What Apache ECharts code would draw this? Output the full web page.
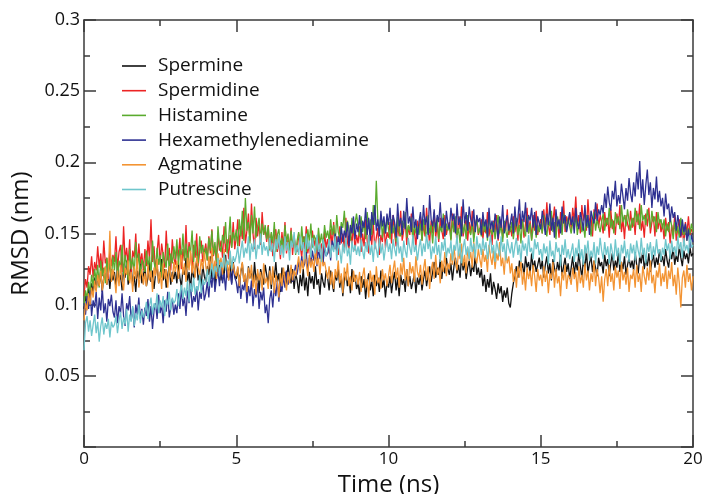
<!DOCTYPE html>
<html><head><meta charset="utf-8">
<script src="https://cdn.jsdelivr.net/npm/echarts@6/dist/echarts.min.js"></script>
<style>html,body{margin:0;padding:0;background:#fff}#c{width:707px;height:494px}</style>
</head><body><div id="c"></div>
<script>
const seriesNames = ['Spermine','Spermidine','Histamine','Hexamethylenediamine','Agmatine','Putrescine'];
const seriesColors = ['#111111','#ec2424','#5aab2e','#2e3192','#f39433','#6fc6cc'];
const xTicks = [0,5,10,15,20];
const yTicks = [0,0.05,0.1,0.15,0.2,0.25,0.3];

const spermine = [
0.097,0.106,0.101,0.112,0.104,0.115,0.108,0.119,0.110,0.121,0.113,0.124,0.109,0.120,0.126,0.114,0.122,0.111,0.125,0.117,
0.123,0.112,0.128,0.116,0.121,0.110,0.126,0.119,0.131,0.114,0.122,0.127,0.113,0.120,0.109,0.124,0.118,0.129,0.115,0.121,
0.126,0.113,0.119,0.130,0.116,0.124,0.111,0.122,0.128,0.115,0.120,0.132,0.117,0.125,0.112,0.121,0.127,0.114,0.123,0.118,
0.124,0.115,0.129,0.119,0.112,0.126,0.121,0.133,0.116,0.123,0.110,0.127,0.118,0.124,0.131,0.117,0.122,0.113,0.128,0.120,
0.116,0.127,0.121,0.134,0.118,0.125,0.113,0.129,0.123,0.131,0.117,0.126,0.120,0.135,0.119,0.124,0.128,0.115,0.130,0.122,
0.118,0.126,0.112,0.123,0.129,0.116,0.121,0.110,0.127,0.119,0.124,0.113,0.130,0.117,0.122,0.108,0.125,0.120,0.114,0.128,
0.121,0.115,0.127,0.111,0.124,0.119,0.130,0.116,0.122,0.109,0.126,0.118,0.123,0.113,0.128,0.120,0.115,0.125,0.111,0.122,
0.117,0.108,0.121,0.113,0.125,0.110,0.119,0.106,0.123,0.115,0.120,0.111,0.127,0.114,0.118,0.107,0.122,0.116,0.112,0.124,
0.119,0.110,0.124,0.115,0.109,0.121,0.117,0.126,0.112,0.120,0.106,0.118,0.123,0.113,0.119,0.108,0.125,0.116,0.121,0.111,
0.115,0.107,0.120,0.112,0.118,0.104,0.116,0.122,0.110,0.117,0.106,0.121,0.113,0.119,0.109,0.124,0.112,0.118,0.105,0.116,
0.112,0.120,0.108,0.117,0.123,0.110,0.119,0.106,0.121,0.114,0.118,0.109,0.125,0.113,0.120,0.111,0.116,0.122,0.108,0.119,
0.114,0.121,0.110,0.118,0.124,0.113,0.120,0.127,0.116,0.123,0.130,0.119,0.126,0.121,0.132,0.118,0.128,0.122,0.133,0.125,
0.121,0.129,0.117,0.127,0.133,0.122,0.128,0.119,0.134,0.124,0.130,0.118,0.126,0.131,0.120,0.128,0.123,0.135,0.121,0.126,
0.119,0.125,0.113,0.121,0.109,0.118,0.112,0.122,0.107,0.116,0.111,0.104,0.115,0.108,0.113,0.102,0.110,0.105,0.112,0.101,
0.098,0.108,0.115,0.121,0.127,0.119,0.131,0.124,0.129,0.120,0.134,0.126,0.130,0.122,0.136,0.125,0.131,0.123,0.128,0.133,
0.125,0.131,0.119,0.128,0.134,0.122,0.129,0.117,0.132,0.126,0.121,0.130,0.124,0.135,0.120,0.127,0.133,0.123,0.129,0.118,
0.126,0.134,0.121,0.130,0.124,0.136,0.127,0.119,0.132,0.125,0.138,0.122,0.129,0.134,0.123,0.131,0.126,0.120,0.133,0.127,
0.130,0.122,0.135,0.127,0.132,0.120,0.129,0.136,0.124,0.131,0.126,0.137,0.123,0.130,0.125,0.134,0.121,0.128,0.133,0.126,
0.131,0.124,0.137,0.128,0.122,0.134,0.129,0.138,0.125,0.132,0.127,0.136,0.123,0.130,0.135,0.126,0.133,0.128,0.139,0.130,
0.134,0.127,0.139,0.131,0.126,0.137,0.132,0.140,0.128,0.135,0.130,0.141,0.133,0.127,0.138,0.132,0.136,0.129,0.140,0.134,
0.136];

const spermidine = [
0.106,0.118,0.112,0.127,0.121,0.134,0.119,0.130,0.124,0.141,0.126,0.136,0.122,0.145,0.129,0.133,0.118,0.139,0.127,0.135,
0.130,0.148,0.125,0.137,0.142,0.123,0.155,0.131,0.140,0.128,0.146,0.121,0.138,0.133,0.150,0.126,0.143,0.129,0.136,0.124,
0.139,0.127,0.145,0.132,0.160,0.130,0.141,0.122,0.137,0.149,0.128,0.143,0.135,0.126,0.152,0.131,0.140,0.124,0.146,0.133,
0.128,0.141,0.134,0.147,0.125,0.139,0.131,0.156,0.129,0.144,0.136,0.123,0.142,0.133,0.150,0.127,0.138,0.145,0.130,0.137,
0.143,0.131,0.148,0.136,0.153,0.134,0.141,0.129,0.150,0.138,0.145,0.133,0.155,0.137,0.146,0.132,0.149,0.140,0.158,0.139,
0.147,0.160,0.141,0.155,0.146,0.168,0.143,0.152,0.164,0.145,0.171,0.150,0.139,0.161,0.148,0.157,0.142,0.165,0.149,0.153,
0.144,0.156,0.138,0.150,0.134,0.147,0.153,0.137,0.145,0.132,0.151,0.140,0.158,0.136,0.146,0.139,0.154,0.135,0.148,0.141,
0.137,0.150,0.142,0.133,0.148,0.139,0.155,0.136,0.144,0.131,0.152,0.141,0.147,0.134,0.149,0.138,0.143,0.130,0.151,0.140,
0.146,0.136,0.153,0.141,0.158,0.139,0.148,0.135,0.155,0.143,0.150,0.137,0.161,0.144,0.139,0.152,0.142,0.157,0.138,0.149,
0.143,0.155,0.137,0.150,0.141,0.160,0.145,0.136,0.153,0.142,0.158,0.139,0.147,0.154,0.135,0.149,0.144,0.157,0.140,0.151,
0.147,0.158,0.143,0.163,0.150,0.141,0.156,0.148,0.166,0.145,0.152,0.160,0.142,0.155,0.149,0.164,0.146,0.153,0.140,0.159,
0.151,0.162,0.145,0.157,0.148,0.168,0.153,0.143,0.159,0.150,0.165,0.147,0.156,0.144,0.161,0.152,0.146,0.163,0.149,0.155,
0.158,0.146,0.164,0.151,0.157,0.143,0.162,0.153,0.169,0.148,0.155,0.160,0.145,0.158,0.150,0.166,0.147,0.154,0.161,0.149,
0.153,0.160,0.146,0.157,0.150,0.165,0.148,0.156,0.142,0.159,0.151,0.163,0.145,0.154,0.160,0.147,0.158,0.152,0.167,0.149,
0.155,0.148,0.162,0.151,0.158,0.145,0.164,0.153,0.160,0.147,0.157,0.168,0.150,0.159,0.146,0.163,0.152,0.166,0.149,0.156,
0.160,0.150,0.167,0.154,0.172,0.156,0.149,0.163,0.158,0.169,0.152,0.161,0.147,0.165,0.155,0.173,0.151,0.162,0.157,0.164,
0.153,0.168,0.158,0.176,0.155,0.163,0.150,0.170,0.159,0.166,0.152,0.174,0.157,0.162,0.148,0.167,0.160,0.171,0.154,0.163,
0.158,0.150,0.165,0.155,0.161,0.147,0.167,0.153,0.159,0.149,0.164,0.156,0.170,0.151,0.160,0.146,0.163,0.157,0.152,0.166,
0.154,0.161,0.149,0.166,0.156,0.171,0.152,0.159,0.147,0.164,0.155,0.168,0.150,0.158,0.162,0.148,0.165,0.153,0.160,0.151,
0.157,0.146,0.161,0.152,0.158,0.143,0.156,0.149,0.163,0.145,0.154,0.160,0.147,0.155,0.141,0.158,0.150,0.162,0.148,0.153,
0.151];

const histamine = [
0.099,0.110,0.104,0.116,0.108,0.121,0.113,0.125,0.117,0.128,0.112,0.131,0.120,0.126,0.115,0.133,0.122,0.129,0.118,0.134,
0.124,0.137,0.119,0.131,0.126,0.142,0.121,0.135,0.128,0.117,0.139,0.125,0.133,0.122,0.144,0.127,0.136,0.120,0.132,0.129,
0.123,0.138,0.127,0.134,0.120,0.145,0.130,0.124,0.140,0.128,0.135,0.119,0.137,0.131,0.126,0.143,0.122,0.136,0.129,0.141,
0.132,0.146,0.128,0.139,0.134,0.150,0.131,0.143,0.126,0.141,0.137,0.152,0.130,0.145,0.135,0.129,0.148,0.136,0.142,0.133,
0.140,0.131,0.147,0.138,0.152,0.135,0.144,0.130,0.155,0.141,0.137,0.149,0.143,0.158,0.136,0.146,0.162,0.140,0.151,0.145,
0.153,0.141,0.160,0.148,0.166,0.145,0.175,0.152,0.158,0.143,0.163,0.150,0.169,0.147,0.155,0.161,0.144,0.157,0.149,0.156,
0.146,0.155,0.139,0.151,0.143,0.158,0.137,0.149,0.153,0.141,0.147,0.136,0.156,0.144,0.150,0.138,0.152,0.142,0.148,0.135,
0.145,0.151,0.139,0.155,0.142,0.148,0.136,0.153,0.144,0.157,0.140,0.149,0.146,0.138,0.154,0.143,0.150,0.141,0.156,0.147,
0.152,0.145,0.160,0.149,0.156,0.143,0.163,0.151,0.147,0.158,0.154,0.166,0.148,0.159,0.153,0.145,0.161,0.150,0.157,0.164,
0.155,0.148,0.162,0.151,0.158,0.146,0.165,0.153,0.160,0.149,0.170,0.156,0.187,0.159,0.152,0.163,0.147,0.158,0.150,0.161,
0.153,0.146,0.160,0.150,0.157,0.144,0.162,0.151,0.148,0.159,0.154,0.165,0.147,0.156,0.152,0.161,0.145,0.158,0.150,0.155,
0.149,0.157,0.145,0.160,0.152,0.147,0.163,0.150,0.156,0.143,0.158,0.153,0.161,0.146,0.155,0.151,0.164,0.148,0.157,0.152,
0.156,0.145,0.159,0.151,0.162,0.148,0.154,0.143,0.160,0.150,0.157,0.146,0.163,0.152,0.149,0.158,0.144,0.155,0.161,0.150,
0.154,0.148,0.160,0.151,0.157,0.145,0.162,0.153,0.149,0.158,0.146,0.155,0.163,0.150,0.156,0.144,0.159,0.152,0.147,0.157,
0.151,0.158,0.146,0.155,0.161,0.149,0.156,0.143,0.159,0.152,0.148,0.162,0.150,0.157,0.145,0.154,0.160,0.147,0.156,0.151,
0.157,0.150,0.163,0.154,0.148,0.160,0.155,0.166,0.151,0.158,0.146,0.162,0.153,0.159,0.149,0.164,0.156,0.152,0.161,0.155,
0.150,0.158,0.153,0.164,0.149,0.157,0.161,0.151,0.156,0.147,0.163,0.154,0.159,0.148,0.157,0.165,0.152,0.160,0.155,0.151,
0.158,0.164,0.152,0.161,0.156,0.168,0.154,0.160,0.150,0.165,0.157,0.162,0.153,0.170,0.158,0.163,0.155,0.167,0.159,0.152,
0.161,0.155,0.168,0.158,0.164,0.153,0.170,0.159,0.163,0.156,0.167,0.160,0.154,0.166,0.158,0.162,0.151,0.165,0.157,0.160,
0.153,0.160,0.148,0.157,0.151,0.162,0.155,0.146,0.158,0.150,0.155,0.147,0.161,0.152,0.149,0.156,0.145,0.154,0.150,0.157,
0.151];

const hexamethylenediamine = [
0.101,0.093,0.106,0.097,0.110,0.092,0.103,0.098,0.109,0.090,0.105,0.096,0.112,0.094,0.101,0.088,0.104,0.099,0.107,0.095,
0.091,0.103,0.087,0.099,0.094,0.108,0.092,0.085,0.101,0.096,0.106,0.089,0.098,0.084,0.100,0.093,0.105,0.090,0.097,0.086,
0.098,0.092,0.104,0.088,0.099,0.083,0.096,0.101,0.090,0.107,0.094,0.100,0.087,0.103,0.095,0.109,0.091,0.098,0.104,0.093,
0.100,0.094,0.108,0.097,0.112,0.099,0.105,0.092,0.110,0.101,0.115,0.098,0.106,0.102,0.113,0.096,0.109,0.104,0.117,0.103,
0.108,0.116,0.105,0.121,0.112,0.126,0.109,0.118,0.124,0.113,0.129,0.115,0.122,0.110,0.127,0.117,0.123,0.114,0.128,0.119,
0.116,0.108,0.121,0.104,0.114,0.110,0.119,0.101,0.113,0.106,0.117,0.099,0.111,0.105,0.115,0.097,0.109,0.103,0.112,0.094,
0.100,0.087,0.104,0.110,0.098,0.113,0.106,0.117,0.102,0.115,0.109,0.120,0.112,0.124,0.114,0.119,0.126,0.116,0.122,0.128,
0.121,0.130,0.124,0.134,0.126,0.129,0.137,0.123,0.133,0.128,0.138,0.131,0.135,0.127,0.140,0.132,0.136,0.129,0.141,0.134,
0.136,0.143,0.131,0.145,0.139,0.150,0.137,0.148,0.142,0.155,0.144,0.152,0.147,0.158,0.141,0.156,0.150,0.162,0.146,0.157,
0.151,0.163,0.147,0.159,0.154,0.168,0.149,0.161,0.145,0.165,0.156,0.170,0.152,0.160,0.148,0.166,0.155,0.162,0.150,0.164,
0.156,0.168,0.150,0.163,0.158,0.147,0.171,0.155,0.161,0.149,0.166,0.153,0.175,0.157,0.162,0.151,0.169,0.154,0.160,0.146,
0.158,0.165,0.152,0.170,0.156,0.162,0.149,0.177,0.160,0.155,0.167,0.151,0.163,0.158,0.172,0.154,0.161,0.148,0.166,0.157,
0.153,0.168,0.159,0.164,0.150,0.171,0.156,0.162,0.148,0.174,0.157,0.165,0.152,0.169,0.160,0.155,0.167,0.151,0.163,0.158,
0.161,0.149,0.165,0.155,0.160,0.147,0.168,0.153,0.159,0.151,0.164,0.156,0.146,0.162,0.154,0.170,0.150,0.158,0.163,0.152,
0.157,0.164,0.150,0.169,0.155,0.161,0.174,0.153,0.166,0.158,0.172,0.151,0.163,0.159,0.168,0.154,0.165,0.149,0.162,0.157,
0.153,0.166,0.158,0.149,0.164,0.156,0.171,0.152,0.161,0.147,0.167,0.155,0.160,0.150,0.169,0.157,0.163,0.151,0.158,0.165,
0.156,0.162,0.150,0.168,0.158,0.153,0.165,0.160,0.152,0.170,0.155,0.163,0.149,0.166,0.161,0.157,0.172,0.159,0.167,0.163,
0.170,0.164,0.178,0.168,0.183,0.172,0.166,0.180,0.174,0.187,0.169,0.177,0.171,0.185,0.176,0.167,0.182,0.173,0.189,0.178,
0.172,0.186,0.176,0.193,0.181,0.201,0.175,0.188,0.170,0.184,0.195,0.177,0.186,0.168,0.182,0.174,0.190,0.172,0.180,0.169,
0.175,0.162,0.178,0.167,0.171,0.158,0.169,0.161,0.165,0.152,0.163,0.156,0.148,0.160,0.151,0.157,0.145,0.153,0.140,0.149,
0.144];

const agmatine = [
0.089,0.101,0.096,0.108,0.100,0.112,0.105,0.117,0.109,0.121,0.113,0.124,0.110,0.119,0.127,0.114,0.122,0.152,0.116,0.125,
0.119,0.108,0.124,0.113,0.128,0.117,0.110,0.126,0.121,0.131,0.115,0.123,0.109,0.127,0.118,0.133,0.112,0.120,0.125,0.114,
0.122,0.113,0.128,0.117,0.124,0.109,0.126,0.120,0.132,0.115,0.123,0.111,0.129,0.118,0.125,0.112,0.127,0.121,0.116,0.130,
0.123,0.131,0.118,0.127,0.135,0.121,0.129,0.116,0.133,0.124,0.138,0.122,0.130,0.119,0.134,0.126,0.120,0.132,0.125,0.137,
0.127,0.120,0.134,0.125,0.140,0.123,0.131,0.118,0.136,0.128,0.133,0.121,0.139,0.126,0.130,0.117,0.135,0.124,0.129,0.122,
0.120,0.127,0.113,0.124,0.130,0.116,0.122,0.109,0.126,0.118,0.128,0.112,0.121,0.107,0.125,0.117,0.123,0.110,0.129,0.115,
0.119,0.111,0.124,0.114,0.127,0.108,0.121,0.116,0.105,0.122,0.113,0.126,0.118,0.110,0.123,0.115,0.128,0.117,0.124,0.120,
0.127,0.134,0.122,0.131,0.125,0.138,0.129,0.120,0.135,0.126,0.132,0.123,0.140,0.128,0.133,0.121,0.136,0.127,0.130,0.124,
0.118,0.127,0.114,0.123,0.111,0.125,0.119,0.131,0.115,0.122,0.108,0.126,0.117,0.129,0.113,0.120,0.110,0.124,0.116,0.121,
0.114,0.123,0.109,0.120,0.126,0.112,0.118,0.105,0.124,0.116,0.121,0.107,0.127,0.115,0.119,0.111,0.125,0.117,0.122,0.113,
0.120,0.128,0.115,0.124,0.131,0.118,0.126,0.112,0.129,0.121,0.133,0.117,0.125,0.113,0.130,0.122,0.127,0.116,0.134,0.123,
0.119,0.128,0.114,0.125,0.132,0.117,0.127,0.111,0.124,0.130,0.118,0.135,0.121,0.126,0.115,0.131,0.123,0.137,0.120,0.129,
0.125,0.136,0.128,0.141,0.130,0.124,0.138,0.132,0.143,0.127,0.135,0.122,0.140,0.131,0.137,0.126,0.144,0.133,0.129,0.139,
0.132,0.126,0.139,0.130,0.135,0.123,0.142,0.134,0.128,0.138,0.125,0.136,0.131,0.144,0.127,0.133,0.121,0.137,0.129,0.134,
0.122,0.129,0.116,0.125,0.112,0.127,0.119,0.131,0.114,0.123,0.110,0.126,0.118,0.124,0.113,0.128,0.120,0.109,0.125,0.117,
0.121,0.113,0.127,0.116,0.124,0.108,0.122,0.118,0.130,0.112,0.125,0.115,0.120,0.106,0.123,0.117,0.128,0.111,0.121,0.119,
0.114,0.126,0.118,0.123,0.109,0.127,0.115,0.121,0.112,0.129,0.117,0.124,0.110,0.122,0.116,0.131,0.113,0.125,0.119,0.108,
0.120,0.102,0.118,0.125,0.113,0.128,0.116,0.122,0.110,0.127,0.119,0.124,0.111,0.130,0.117,0.123,0.114,0.126,0.109,0.121,
0.118,0.125,0.112,0.128,0.116,0.122,0.109,0.127,0.120,0.114,0.126,0.117,0.131,0.115,0.121,0.108,0.124,0.119,0.129,0.113,
0.122,0.116,0.127,0.111,0.124,0.118,0.130,0.113,0.121,0.107,0.126,0.115,0.098,0.119,0.124,0.112,0.128,0.116,0.122,0.110,
0.120];

const putrescine = [
0.068,0.087,0.092,0.081,0.089,0.078,0.086,0.093,0.080,0.088,0.074,0.085,0.091,0.079,0.087,0.083,0.090,0.077,0.088,0.084,
0.086,0.092,0.080,0.089,0.095,0.083,0.091,0.086,0.097,0.081,0.093,0.088,0.099,0.085,0.094,0.089,0.100,0.087,0.096,0.091,
0.095,0.102,0.090,0.099,0.105,0.093,0.101,0.097,0.108,0.094,0.103,0.098,0.106,0.092,0.104,0.100,0.109,0.096,0.105,0.101,
0.103,0.111,0.099,0.108,0.114,0.104,0.112,0.106,0.117,0.102,0.115,0.109,0.119,0.107,0.113,0.110,0.121,0.108,0.118,0.114,
0.117,0.125,0.113,0.122,0.129,0.119,0.127,0.123,0.133,0.120,0.130,0.126,0.136,0.124,0.131,0.128,0.138,0.125,0.134,0.130,
0.134,0.141,0.129,0.138,0.145,0.133,0.140,0.136,0.148,0.131,0.143,0.137,0.146,0.132,0.142,0.139,0.150,0.135,0.144,0.138,
0.141,0.134,0.147,0.137,0.143,0.130,0.146,0.139,0.149,0.135,0.142,0.133,0.148,0.138,0.144,0.131,0.145,0.140,0.151,0.136,
0.142,0.135,0.148,0.138,0.144,0.132,0.150,0.139,0.145,0.133,0.147,0.140,0.136,0.149,0.137,0.143,0.130,0.146,0.141,0.134,
0.139,0.146,0.133,0.142,0.137,0.148,0.131,0.144,0.138,0.129,0.143,0.136,0.147,0.134,0.140,0.128,0.145,0.137,0.142,0.135,
0.141,0.134,0.146,0.138,0.132,0.144,0.137,0.149,0.135,0.142,0.130,0.145,0.139,0.133,0.147,0.136,0.143,0.131,0.140,0.146,
0.137,0.143,0.132,0.146,0.139,0.134,0.148,0.136,0.141,0.130,0.145,0.138,0.133,0.147,0.140,0.135,0.149,0.137,0.142,0.131,
0.140,0.146,0.134,0.143,0.137,0.150,0.139,0.145,0.132,0.141,0.136,0.148,0.135,0.142,0.130,0.144,0.138,0.147,0.133,0.140,
0.136,0.145,0.131,0.142,0.138,0.149,0.134,0.143,0.129,0.140,0.146,0.135,0.141,0.132,0.147,0.137,0.143,0.133,0.148,0.139,
0.143,0.135,0.147,0.138,0.144,0.132,0.140,0.149,0.136,0.142,0.130,0.145,0.139,0.134,0.148,0.137,0.143,0.131,0.146,0.140,
0.136,0.144,0.133,0.141,0.147,0.135,0.142,0.130,0.145,0.138,0.143,0.134,0.149,0.137,0.140,0.132,0.146,0.139,0.144,0.135,
0.139,0.131,0.143,0.136,0.141,0.128,0.145,0.134,0.138,0.130,0.144,0.137,0.140,0.127,0.142,0.135,0.146,0.133,0.139,0.132,
0.137,0.143,0.130,0.140,0.134,0.146,0.132,0.139,0.128,0.142,0.136,0.145,0.131,0.138,0.133,0.144,0.129,0.141,0.135,0.147,
0.138,0.132,0.144,0.135,0.141,0.129,0.143,0.137,0.131,0.146,0.134,0.140,0.128,0.142,0.136,0.145,0.133,0.139,0.130,0.143,
0.136,0.142,0.131,0.145,0.138,0.133,0.147,0.135,0.140,0.129,0.143,0.137,0.144,0.132,0.141,0.134,0.146,0.136,0.139,0.131,
0.140,0.135,0.146,0.138,0.143,0.132,0.145,0.137,0.141,0.134,0.148,0.139,0.144,0.133,0.147,0.138,0.142,0.136,0.149,0.140,
0.142];

const timeStep = 0.05; // ns between saved frames
const allValues = [spermine, spermidine, histamine, hexamethylenediamine, agmatine, putrescine];

const axisColor = '#3a3a3a';
const font = 'Open Sans';
function xAxisDef(pos, main){
  return {type:'value', position:pos, min:0, max:20, interval:5,
    axisLine:{show:true, onZero:false, lineStyle:{color:axisColor,width:1.5}},
    axisTick:{show:true, inside:true, length:12, lineStyle:{color:axisColor,width:1.5}},
    minorTick:{show:true, splitNumber:2, length:6, lineStyle:{color:axisColor,width:1.5}},
    splitLine:{show:false},
    axisLabel:{show:main, fontSize:17, color:'#111', margin:4, fontFamily:font,
      formatter:v=>xTicks.includes(v)?String(v):''},
    name: main?'Time (ns)':'', nameLocation:'middle', nameGap:19,
    nameTextStyle:{fontSize:24, color:'#111', fontFamily:font}};
}
function yAxisDef(pos, main){
  return {type:'value', position:pos, min:0, max:0.3, interval:0.05,
    axisLine:{show:true, onZero:false, lineStyle:{color:axisColor,width:1.5}},
    axisTick:{show:true, inside:true, length:12, lineStyle:{color:axisColor,width:1.5}},
    minorTick:{show:true, splitNumber:2, length:6, lineStyle:{color:axisColor,width:1.5}},
    splitLine:{show:false},
    axisLabel:{show:main, fontSize:18, color:'#111', margin:4, fontFamily:font,
      formatter:v=>(v===0)?'':String(+v.toFixed(2))},
    name: main?'RMSD (nm)':'', nameLocation:'middle', nameGap:50,
    nameTextStyle:{fontSize:24, color:'#111', fontFamily:font}};
}

const chart = echarts.init(document.getElementById('c'), null, {renderer:'canvas'});
chart.setOption({
  animation:false,
  backgroundColor:'#ffffff',
  textStyle:{fontFamily:font},
  grid:{left:84, right:14, top:20, bottom:47, containLabel:false, outerBoundsMode:'none'},
  legend:{orient:'vertical', left:122, top:56.5, padding:0, icon:'rect', itemWidth:24, itemHeight:1.6, itemGap:5.7,
    textStyle:{fontSize:19, color:'#111', fontFamily:font, padding:[0,0,0,7]},
    data:seriesNames},
  xAxis:[xAxisDef('bottom',true), xAxisDef('top',false)],
  yAxis:[yAxisDef('left',true), yAxisDef('right',false)],
  series: seriesNames.map((n,k)=>({
    name:n, type:'line', xAxisIndex:0, yAxisIndex:0, symbol:'none', showSymbol:false,
    lineStyle:{color:seriesColors[k], width:1.3}, itemStyle:{color:seriesColors[k]},
    emphasis:{disabled:true},
    data: allValues[k].map((v,i)=>[+(i*timeStep).toFixed(2), v])
  }))
});
</script></body></html>
